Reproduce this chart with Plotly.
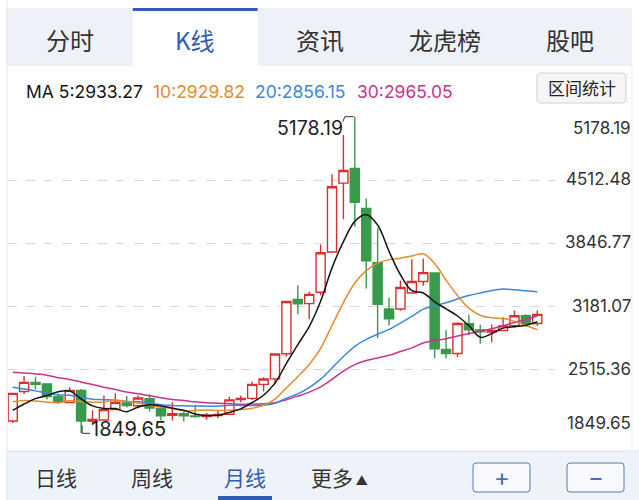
import plotly.graph_objects as go

W, H = 639, 500

# ---------------- data ----------------
months = ["2012-12", "2013-01", "2013-02", "2013-03", "2013-04", "2013-05", "2013-06", "2013-07",
          "2013-08", "2013-09", "2013-10", "2013-11", "2013-12", "2014-01", "2014-02", "2014-03",
          "2014-04", "2014-05", "2014-06", "2014-07", "2014-08", "2014-09", "2014-10", "2014-11",
          "2014-12", "2015-01", "2015-02", "2015-03", "2015-04", "2015-05", "2015-06", "2015-07",
          "2015-08", "2015-09", "2015-10", "2015-11", "2015-12", "2016-01", "2016-02", "2016-03",
          "2016-04", "2016-05", "2016-06", "2016-07", "2016-08", "2016-09", "2016-10"]
opens = [1979, 2289, 2383, 2368, 2234, 2174, 2299, 1978, 1990, 2099, 2170, 2139, 2214, 2112, 2039,
         2055, 2032, 2027, 2036, 2050, 2204, 2217, 2364, 2422, 2686, 3258, 3213, 3332, 3755, 4480,
         4633, 4214, 3643, 3157, 3156, 3325, 3446, 3536, 2730, 2688, 3003, 2937, 2914, 2931, 2980,
         3085, 3004]
highs = [2276, 2452, 2444, 2369, 2269, 2334, 2315, 2092, 2248, 2270, 2243, 2245, 2260, 2121, 2177,
         2076, 2146, 2062, 2087, 2233, 2248, 2391, 2440, 2683, 3239, 3406, 3337, 3835, 4572, 4986,
         5178.19, 4318, 4006, 3276, 3456, 3679, 3685, 3539, 2934, 3018, 3097, 2990, 2993, 3069, 3140,
         3101, 3140]
lows = [1959, 2264, 2309, 2205, 2161, 2166, 1849.65, 1951, 1988, 2091, 2122, 2112, 2078, 1985, 1984,
        1974, 2014, 1991, 2010, 2050, 2177, 2201, 2289, 2363, 2657, 3100, 3050, 3300, 3747, 4099,
        4021, 3373, 2850, 2983, 3139, 3322, 3401, 2638, 2638, 2649, 2880, 2790, 2807, 2931, 2957,
        2969, 2980]
closes = [2269, 2385, 2366, 2236, 2178, 2301, 1979, 1994, 2098, 2175, 2141, 2220, 2116, 2033, 2056,
          2033, 2026, 2039, 2048, 2201, 2217, 2364, 2420, 2683, 3235, 3210, 3310, 3748, 4441, 4612,
          4277, 3664, 3206, 3053, 3383, 3445, 3539, 2738, 2688, 3004, 2938, 2917, 2930, 2979, 3085,
          3005, 3100]
ma5 = [2090.2, 2157.8, 2213.8, 2247.2, 2286.8, 2293.2, 2212.0, 2137.6, 2110.0, 2109.4, 2077.4,
       2125.6, 2150.0, 2137.0, 2113.2, 2091.6, 2052.8, 2037.4, 2040.4, 2069.4, 2106.2, 2173.8,
       2250.0, 2377.0, 2583.8, 2782.4, 2971.6, 3237.2, 3588.8, 3864.2, 4077.6, 4148.4, 4040.0,
       3762.4, 3516.6, 3350.2, 3325.2, 3231.6, 3158.6, 3082.8, 2981.4, 2859.0, 2897.4, 2955.6,
       2971.8, 2985.2, 3021.8]
ma10 = [2181.2, 2193.4, 2190.3, 2176.6, 2171.9, 2191.7, 2184.9, 2175.7, 2178.6, 2198.1, 2185.3,
        2168.8, 2143.8, 2123.5, 2111.3, 2084.5, 2089.2, 2093.7, 2088.7, 2091.3, 2098.9, 2113.3,
        2143.7, 2208.7, 2326.6, 2444.3, 2572.7, 2743.6, 2982.9, 3224.0, 3430.0, 3560.0, 3638.6,
        3675.6, 3690.4, 3713.9, 3736.8, 3635.8, 3460.5, 3299.7, 3165.8, 3091.1, 3063.5, 3056.1,
        3026.3, 2982.3, 2938.4]
ma20 = [2333.3, 2315.4, 2295.6, 2272.4, 2252.9, 2250.0, 2225.5, 2208.6, 2203.5, 2197.6, 2183.3,
        2181.1, 2167.1, 2150.1, 2141.6, 2138.1, 2137.1, 2134.7, 2133.7, 2144.7, 2142.1, 2141.1,
        2143.8, 2166.1, 2219.0, 2264.4, 2331.0, 2418.7, 2535.8, 2657.7, 2764.5, 2836.7, 2891.2,
        2942.2, 3008.5, 3079.1, 3154.8, 3189.7, 3221.7, 3261.9, 3297.9, 3325.6, 3351.1, 3365.9,
        3358.4, 3348.1, 3337.6]
ma30 = [2491.4, 2482.9, 2473.8, 2459.8, 2433.1, 2415.8, 2388.2, 2361.6, 2334.7, 2309.6, 2284.0,
        2266.5, 2245.0, 2222.7, 2205.7, 2194.8, 2180.1, 2170.3, 2165.2, 2162.2, 2155.1, 2158.5,
        2159.3, 2169.6, 2203.3, 2240.2, 2282.3, 2337.7, 2416.7, 2504.5, 2571.4, 2614.0, 2642.0,
        2669.3, 2709.4, 2747.6, 2799.6, 2824.4, 2844.0, 2871.7, 2898.2, 2921.5, 2948.6, 2980.1,
        3014.4, 3046.8, 3082.6]

ytick_vals = [5178.19, 4512.48, 3846.77, 3181.07, 2515.36, 1849.65]
ytick_text = ["5178.19", "4512.48", "3846.77", "3181.07", "2515.36", "1849.65"]
tabs = ["分时", "K线", "资讯", "龙虎榜", "股吧"]
periods = ["日线", "周线", "月线", "更多▲"]
ma_labels = ["MA 5:2933.27", "10:2929.82", "20:2856.15", "30:2965.05"]
button_label = "区间统计"

# ---------------- styling ----------------
RED = "#d9302e"
GREEN = "#3a9a4c"
C_MA5 = "#151515"
C_MA10 = "#e68a2e"
C_MA20 = "#3d86dd"
C_MA30 = "#c8348c"
BLUE = "#2f5db3"
NUM_FONT = "Inter, Roboto, Liberation Sans, sans-serif"
CJK_FONT = "Noto Sans CJK SC, sans-serif"

PX_L, PX_R, PX_T, PX_B = 8, 555, 105, 445
X_RANGE = [-0.412, 47.553]
Y_RANGE = [1726.6, 5301.2]


def xd(px):
    return X_RANGE[0] + (px - PX_L) / (PX_R - PX_L) * (X_RANGE[1] - X_RANGE[0])


def yd(py):
    return Y_RANGE[1] - (py - PX_T) / (PX_B - PX_T) * (Y_RANGE[1] - Y_RANGE[0])


def xp(v):
    return PX_L + (v - X_RANGE[0]) / (X_RANGE[1] - X_RANGE[0]) * (PX_R - PX_L)


def yp(v):
    return PX_T + (Y_RANGE[1] - v) / (Y_RANGE[1] - Y_RANGE[0]) * (PX_B - PX_T)


def rect(x0, y0, x1, y1, fill, line=None, lw=0, layer="below"):
    return dict(type="rect", xref="paper", yref="paper", x0=x0 / W, x1=x1 / W,
                y0=1 - y1 / H, y1=1 - y0 / H, fillcolor=fill,
                line=dict(color=line or fill, width=lw), layer=layer)


def rrect(x0, y0, x1, y1, r, fill, line, lw=1):
    def P(x, y):
        return f"{x / W:.5f},{1 - y / H:.5f}"
    path = (f"M {P(x0 + r, y0)} L {P(x1 - r, y0)} Q {P(x1, y0)} {P(x1, y0 + r)} "
            f"L {P(x1, y1 - r)} Q {P(x1, y1)} {P(x1 - r, y1)} L {P(x0 + r, y1)} "
            f"Q {P(x0, y1)} {P(x0, y1 - r)} L {P(x0, y0 + r)} Q {P(x0, y0)} {P(x0 + r, y0)} Z")
    return dict(type="path", xref="paper", yref="paper", path=path, fillcolor=fill,
                line=dict(color=line, width=lw), layer="above")


def hline(x0, x1, y, color, width=1):
    return dict(type="line", xref="paper", yref="paper", x0=x0 / W, x1=x1 / W,
                y0=1 - y / H, y1=1 - y / H, line=dict(color=color, width=width))


def vline(x, y0, y1, color, width=1):
    return dict(type="line", xref="paper", yref="paper", x0=x / W, x1=x / W,
                y0=1 - y0 / H, y1=1 - y1 / H, line=dict(color=color, width=width))


def txt(text, x, y, size, color, font=CJK_FONT, xanchor="center"):
    return dict(text=text, xref="paper", yref="paper", x=x / W, y=1 - y / H, showarrow=False,
                xanchor=xanchor, yanchor="middle", font=dict(size=size, color=color, family=font))


idx = list(range(len(closes)))

fig = go.Figure()
fig.add_trace(go.Candlestick(
    x=idx, open=opens, high=highs, low=lows, close=closes, text=months,
    increasing=dict(line=dict(color=RED, width=1.4), fillcolor="white"),
    decreasing=dict(line=dict(color=GREEN, width=1.4), fillcolor=GREEN),
    whiskerwidth=0, showlegend=False, name="K"))
for vals, col, nm in [(ma30, C_MA30, "MA30"), (ma20, C_MA20, "MA20"),
                      (ma10, C_MA10, "MA10"), (ma5, C_MA5, "MA5")]:
    fig.add_trace(go.Scatter(x=idx, y=vals, mode="lines", name=nm, showlegend=False,
                             line=dict(color=col, width=1.5, shape="spline", smoothing=1.0)))

shapes = []
annotations = []

# top tab bar
shapes.append(rect(7, 8, 632, 66, "#eef2f8"))
tab_w = (632 - 8) / len(tabs)
for i, t in enumerate(tabs):
    cx = 8 + tab_w * (i + 0.5)
    if i == 1:
        shapes.append(rect(8 + tab_w * i, 8, 8 + tab_w * (i + 1), 67, "white"))
        shapes.append(rect(8 + tab_w * i, 8, 8 + tab_w * (i + 1), 11, BLUE))
        annotations.append(txt(t, cx, 40, 24, BLUE))
    else:
        annotations.append(txt(t, cx, 40, 24, "#333333"))

# left / right borders
shapes.append(vline(7, 0, 500, "#e4e4e4", 1))
shapes.append(vline(632, 66, 451, "#ececec", 1))

# MA header
ma_cols = [C_MA5, C_MA10, C_MA20, C_MA30]
ma_x = [24, 151, 253, 355]
for lab, col, x in zip(ma_labels, ma_cols, ma_x):
    annotations.append(txt(lab, x, 92, 17.5, col, font=NUM_FONT, xanchor="left"))

# 区间统计 button
shapes.append(rrect(537, 73, 626, 103, 4, "#f6f6f6", "#d2d2d2", 1))
annotations.append(txt(button_label, 581.5, 88, 17, "#222222"))

# y labels (right side)
yshifts = [-11.5, 1, 1, 1, 1, 10.5]
for v, t, s in zip(ytick_vals, ytick_text, yshifts):
    annotations.append(dict(text=t, xref="paper", yref="y", x=633 / W, y=v, showarrow=False,
                            xanchor="right", yanchor="middle", yshift=s,
                            font=dict(size=17, color="#333333", family=NUM_FONT)))

# max / min markers
i_max = highs.index(max(highs))
i_min = lows.index(min(lows))
pxm, pym = xp(i_max), yp(highs[i_max])
shapes.append(dict(type="path", xref="x", yref="y",
                   path=f"M {xd(pxm - 1)},{yd(pym)} L {xd(pxm - 10)},{yd(pym)} L {xd(pxm - 12)},{yd(pym + 5)}",
                   line=dict(color="#333333", width=1)))
annotations.append(dict(text=f"{highs[i_max]:.2f}", x=i_max, y=highs[i_max], xref="x", yref="y",
                        showarrow=False, xanchor="right", yanchor="middle", xshift=-10, yshift=-11,
                        font=dict(size=19.5, color="#222222", family=NUM_FONT)))
pxn, pyn = xp(i_min), yp(lows[i_min])
shapes.append(dict(type="path", xref="x", yref="y",
                   path=f"M {xd(pxn + 1)},{yd(pyn - 8)} L {xd(pxn + 1)},{yd(pyn)} L {xd(pxn + 9)},{yd(pyn)}",
                   line=dict(color="#333333", width=1)))
annotations.append(dict(text=f"{lows[i_min]:.2f}", x=i_min, y=lows[i_min], xref="x", yref="y",
                        showarrow=False, xanchor="left", yanchor="middle", xshift=8, yshift=4,
                        font=dict(size=20, color="#222222", family=NUM_FONT)))

# bottom bar
shapes.append(rect(7, 451, 639, 500, "#eef3fa"))
shapes.append(hline(7, 639, 451, "#dfe5ee", 1))
per_x = [56, 152, 245, 339]
for p, x in zip(periods, per_x):
    col = BLUE if p == "月线" else "#333333"
    label = p
    if p.endswith("▲"):
        label = p[:-1] + "<span style='font-size:12px'> ▲</span>"
    annotations.append(txt(label, x, 477, 21, col))
shapes.append(rect(218, 496, 272, 500, BLUE))
shapes.append(rrect(473, 463, 530, 492, 3, "#f7f9fd", "#5b79b9", 1))
shapes.append(rrect(567, 463, 624, 492, 3, "#f7f9fd", "#5b79b9", 1))
annotations.append(txt("+", 501.5, 477, 24, "#4a6db3", font=NUM_FONT))
annotations.append(txt("−", 595.5, 477, 24, "#4a6db3", font=NUM_FONT))

fig.update_layout(
    width=W, height=H,
    margin=dict(l=0, r=0, t=0, b=0, pad=0),
    paper_bgcolor="white", plot_bgcolor="white",
    shapes=shapes, annotations=annotations,
    showlegend=False,
    boxgap=0.2, boxgroupgap=0,
    xaxis=dict(domain=[PX_L / W, PX_R / W], range=X_RANGE, showgrid=False, zeroline=False,
               showticklabels=False, showline=False, rangeslider=dict(visible=False), fixedrange=True),
    yaxis=dict(domain=[1 - PX_B / H, 1 - PX_T / H], range=Y_RANGE, tickvals=ytick_vals[1:-1],
               showticklabels=False, showgrid=True, gridcolor="#d9d9d9", griddash="dash",
               gridwidth=1, zeroline=False, showline=False, ticks="", fixedrange=True),
)

fig.write_html("out.html", config={"displayModeBar": False},
               post_script="document.body.style.margin='0px';")
